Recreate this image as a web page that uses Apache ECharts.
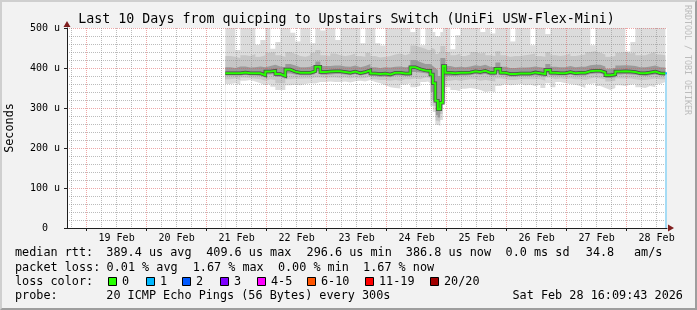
<!DOCTYPE html>
<html><head><meta charset="utf-8">
<script src="https://cdn.jsdelivr.net/npm/echarts@6/dist/echarts.min.js"></script>
<style>
html,body{margin:0;padding:0;background:#f2f2f2;}
#wrap{position:relative;width:697px;height:310px;overflow:hidden;}
#chart{position:absolute;left:0;top:0;width:697px;height:310px;}
#frame{position:absolute;left:0;top:0;width:697px;height:310px;box-sizing:border-box;border-style:solid;border-width:2px;border-color:#cfcfcf #9e9e9e #9e9e9e #cfcfcf;pointer-events:none;}
</style></head>
<body><div id="wrap"><div id="chart"></div><div id="frame"></div></div>
<script>
// ---- data (x = hours since 21 Feb 2026 00:00) ----
const X_MIN = -55.838;   // Wed Feb 18 16:09:43
const X_MAX = 184.162;   // Sat Feb 28 16:09:43
const hours = [7.5,9.5,11.5,13.5,15.5,17.5,19.5,21.5,23.5,25.5,27.5,29.5,31.5,33.5,35.5,37.5,39.5,41.5,43.5,45.5,
  47.5,49.5,51.5,53.5,55.5,57.5,59.5,61.5,63.5,65.5,67.5,69.5,71.5,73.5,75.5,77.5,79.5,81.5,83.5,85.5,
  87.5,88.5,89.5,90.5,91.5,92.5,93.5,94.5,95.5,97.5,99.5,101.5,103.5,105.5,107.5,109.5,111.5,113.5,115.5,117.5,
  119.5,121.5,123.5,125.5,127.5,129.5,131.5,133.5,135.5,137.5,139.5,141.5,143.5,145.5,147.5,149.5,151.5,153.5,155.5,157.5,
  159.5,161.5,163.5,165.5,167.5,169.5,171.5,173.5,175.5,177.5,179.5,181.5,183.5];
const medianRtt = [387,387,387,389,387,387,387,382,391,393, 385,380,396,391,388,388,388,392,403,390,
  391,392,392,390,388,391,387,390,394,386, 385,386,384,388,388,386,386,402,397,394,
  393,393,384,362,318,297,313,405,388,387, 388,388,389,392,390,393,388,388,398,388,
  385,385,386,386,386,389,387,385,395,388, 387,387,390,387,388,388,392,393,393,389,
  382,384,391,392,391,390,387,387,389,391, 387,386,387];
const maxRtt = [500,500,445,500,500,500,458,470,500,448, 465,500,500,488,466,500,500,462,500,494,
  500,500,470,500,500,500,500,462,500,500, 462,456,500,500,500,500,500,490,500,457,
  500,500,500,490,480,478,490,500,500,447, 482,500,500,500,500,490,500,486,500,500,
  500,466,500,500,500,457,500,500,485,500, 500,500,500,500,500,500,500,457,500,500,
  500,500,500,500,441,465,500,500,500,500, 500,500,500];
const highMid = [430,428,425,432,430,435,428,432,438,440, 432,428,440,435,430,428,432,438,445,432,
  430,436,432,430,432,436,430,428,438,430, 426,428,430,434,436,432,436,456,452,448,
  445,445,450,445,435,440,455,455,440,432, 436,430,434,440,436,438,432,430,442,432,
  428,430,430,432,434,436,430,428,440,432, 430,432,436,430,432,434,440,442,438,434,
  428,430,438,440,436,438,432,432,436,440, 434,432,432];
const highDark = [402,400,404,404,401,402,404,402,405,408, 404,402,410,406,402,402,403,408,416,405,
  405,406,406,404,403,406,402,405,410,402, 400,402,401,403,404,402,403,420,415,410,
  410,410,405,400,395,380,425,425,405,402, 403,402,404,407,405,408,403,402,414,403,
  400,400,401,401,402,404,402,400,410,403, 402,402,405,402,403,403,407,408,408,404,
  398,400,406,407,406,405,402,402,404,406, 402,401,401];
const lowDark = [381,381,381,383,381,381,380,376,384,385, 378,373,386,384,382,382,382,385,392,383,
  384,385,385,384,382,385,381,384,387,380, 378,379,377,381,381,380,380,390,389,387,
  386,385,340,320,282,276,298,338,380,380, 381,381,382,385,383,385,381,381,388,382,
  379,379,380,380,380,382,380,378,387,381, 381,381,383,381,381,381,385,386,386,382,
  375,377,384,385,384,383,381,380,382,384, 381,380,380];
const lowMid = [372,374,370,376,375,373,372,368,372,370, 362,362,372,374,373,374,374,376,376,375,
  376,376,375,376,374,376,374,375,378,372, 370,370,368,370,368,372,372,374,372,376,
  376,374,320,305,268,265,285,325,368,370, 368,370,372,372,368,370,368,366,374,372,
  370,370,372,372,372,372,372,368,376,372, 374,372,374,372,372,370,374,376,374,372,
  366,368,374,374,374,372,370,370,372,374, 372,372,372];
const minRtt = [360,362,358,368,370,366,362,357,360,353, 345,345,357,358,357,360,362,361,365,365,
  366,365,365,366,364,367,368,366,370,365, 362,357,352,350,349,358,362,352,355,365,
  366,362,305,290,258,255,270,312,352,345, 342,348,350,348,345,340,342,340,355,360,
  357,358,360,357,358,355,358,350,362,352, 365,362,360,358,355,350,360,362,355,350,
  345,350,357,355,358,360,352,350,355,352, 360,365,365];
const lastLoss = {start:183.5, end:184.162, median:386.8, bar:183.8};

// ---- axis ticks / labels ----
const labelHours = [-36,-12,12,36,60,84,108,132,156,180];
const dayLabels = ['19 Feb','20 Feb','21 Feb','22 Feb','23 Feb','24 Feb','25 Feb','26 Feb','27 Feb','28 Feb'];
const midnights = [-48,-24,0,24,48,72,96,120,144,168];
const sixHours = [-54,-42,-36,-30,-18,-12,-6,6,12,18,30,36,42,54,60,66,78,84,90,102,108,114,126,132,138,150,156,162,174,180];

// ---- legend texts ----
const titleText = 'Last 10 Days from quicping to Upstairs Switch (UniFi USW-Flex-Mini)';
const legendRtt = ['median rtt:','389.4 us avg','409.6 us max','296.6 us min','386.8 us now','0.0 ms sd','34.8','am/s'];
const legendLoss = ['packet loss:','0.01 % avg','1.67 % max','0.00 % min','1.67 % now'];
const lossLabels = ['0','1','2','3','4-5','6-10','11-19','20/20'];
const lossColors = ['#26ff00','#00b8ff','#0059ff','#7e00ff','#ff00ff','#ff5500','#ff0000','#a10000'];
const probeText = ['probe:','20 ICMP Echo Pings (56 Bytes) every 300s','Sat Feb 28 16:09:43 2026'];

const F = '"DejaVu Sans Mono", monospace';
const LF = 11.8;
const pair = a => a.map((v,i)=>[hours[i], v]);

function layer(name, values, color){
  return {name, type:'line', step:'end', symbol:'none', silent:true, z:2,
    xAxisIndex:0, yAxisIndex:0, data:pair(values),
    lineStyle:{width:0, opacity:0},
    areaStyle:{color, opacity:1, origin:'start'}};
}

function txt(s, x, y, size, align){
  return {type:'text', x, y, silent:true,
    style:{text:s, font: size+'px '+F, fill:'#000', align:align||'left', verticalAlign:'middle'}};
}

const rttX = [15,106.3,206.2,306.6,405.8,505.6,585.8,634];
const lossX = [15,106.6,192.7,277.9,363.1];
const boxX = [108,146,182,220,257,307,365,430];
const probeX = [15,106.3,512.5];
const rowY = [253.2,267.6,281.9,296.2];

const graphics = [];
graphics.push(txt(titleText, 346.5, 19.2, 13.3, 'center'));
legendRtt.forEach((s,i)=>graphics.push(txt(s, rttX[i], rowY[0], LF)));
legendLoss.forEach((s,i)=>graphics.push(txt(s, lossX[i], rowY[1], LF)));
graphics.push(txt('loss color:', 15, rowY[2], LF));
lossLabels.forEach((s,i)=>{
  graphics.push({type:'rect', silent:true, shape:{x:boxX[i]+0.5, y:277.5, width:8, height:8},
    style:{fill:lossColors[i], stroke:'#000', lineWidth:1}});
  graphics.push(txt(s, boxX[i]+14, rowY[2], LF));
});
probeText.forEach((s,i)=>graphics.push(txt(s, probeX[i], rowY[3], LF)));
graphics.push({type:'text', x:10, y:128, rotation:Math.PI/2, silent:true,
  style:{text:'Seconds', font:LF+'px '+F, fill:'#000', align:'center', verticalAlign:'middle'}});
graphics.push({type:'text', x:687, y:60, rotation:-Math.PI/2, silent:true,
  style:{text:'RRDTOOL / TOBI OETIKER', font:'8.3px '+F, fill:'#bcbcbc', align:'center', verticalAlign:'middle'}});

const RED_GRID = 'rgba(222,79,79,0.5)';
const GRAY_GRID = 'rgba(143,143,143,0.6)';

const chart = echarts.init(document.getElementById('chart'), null, {renderer:'canvas'});
chart.setOption({
  animation:false,
  backgroundColor:'#f2f2f2',
  grid:{left:67, top:28, width:600, height:200, show:true, backgroundColor:'#ffffff', borderWidth:0},
  xAxis:[
    {type:'value', min:X_MIN, max:X_MAX, z:3,
     axisLine:{show:true, onZero:false, lineStyle:{color:'#1f1f1f', width:1}},
     axisTick:{show:true, customValues:midnights, length:3, lineStyle:{color:'#1f1f1f'}},
     axisLabel:{show:true, customValues:labelHours, margin:5, fontFamily:F, fontSize:10, color:'#000',
       formatter:v=>{let bi=0,bd=1e9;labelHours.forEach((h,i)=>{const d=Math.abs(h-v);if(d<bd){bd=d;bi=i;}});return dayLabels[bi];}},
     splitLine:{show:true, lineStyle:{color:RED_GRID, type:[1,1], width:1}}},
    {type:'value', min:X_MIN, max:X_MAX, position:'bottom', z:3,
     axisLine:{show:true, onZero:false, symbol:['none','triangle'], symbolSize:[7,6], symbolOffset:[0,4],
       lineStyle:{color:'#801f1f', width:0}},
     axisTick:{show:false, customValues:sixHours},
     axisLabel:{show:false},
     splitLine:{show:true, lineStyle:{color:GRAY_GRID, type:[1,1], width:1}}}
  ],
  yAxis:[
    {type:'value', min:0, max:500, interval:100, z:3,
     axisLine:{show:true, onZero:false, lineStyle:{color:'#1f1f1f', width:1}},
     axisTick:{show:true, length:3, lineStyle:{color:'#1f1f1f'}},
     axisLabel:{formatter:v=> v===0 ? '0  ' : v+' u', fontFamily:F, fontSize:10, color:'#000', margin:7},
     splitLine:{show:true, lineStyle:{color:RED_GRID, type:[1,1], width:1}},
     minorTick:{show:false, splitNumber:5},
     minorSplitLine:{show:true, lineStyle:{color:GRAY_GRID, type:[1,1], width:1}}},
    {type:'value', min:0, max:500, interval:100, position:'left', z:3,
     axisLine:{show:true, onZero:false, symbol:['none','triangle'], symbolSize:[7,6], symbolOffset:[0,4],
       lineStyle:{color:'#801f1f', width:0}},
     axisTick:{show:false}, axisLabel:{show:false}, splitLine:{show:false}}
  ],
  graphic: graphics,
  series:[
    layer('max', maxRtt, '#dcdcdc'),
    layer('highMid', highMid, '#c6c6c6'),
    layer('highDark', highDark, '#9a9a9a'),
    layer('lowDark', lowDark, '#c6c6c6'),
    layer('lowMid', lowMid, '#dcdcdc'),
    layer('min', minRtt, '#ffffff'),
    {name:'medianShade', type:'line', step:'end', symbol:'none', silent:true, z:4, xAxisIndex:0, yAxisIndex:0,
     data:pair(medianRtt), lineStyle:{color:'#4a4a4a', width:3.5, join:'miter', cap:'butt'}},
    {name:'median', type:'line', step:'end', symbol:'none', silent:true, z:5, xAxisIndex:0, yAxisIndex:0,
     data:pair(medianRtt), lineStyle:{color:'#26ff00', width:2, join:'miter', cap:'butt'}},
    {name:'lastLoss', type:'line', step:'end', symbol:'none', silent:true, z:5, xAxisIndex:0, yAxisIndex:0,
     data:[[lastLoss.start, lastLoss.median],[lastLoss.end, lastLoss.median]],
     lineStyle:{color:'#00b8ff', width:2},
     markLine:{silent:true, symbol:['none','none'], label:{show:false}, z:4,
       lineStyle:{color:'#a6dcf5', width:2, type:'solid'},
       data:[[{coord:[lastLoss.bar, 0]},{coord:[lastLoss.bar, lastLoss.median]}]]}}
  ]
});
</script>
</body></html>
